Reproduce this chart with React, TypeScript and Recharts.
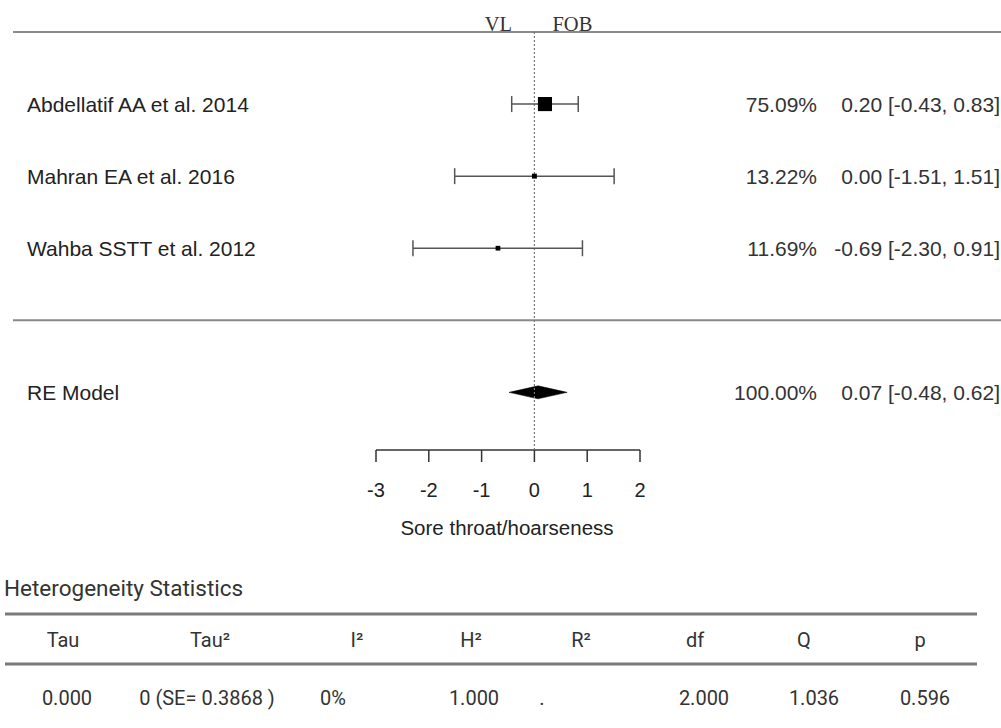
import React from 'react';
import {
  ComposedChart,
  Scatter,
  ErrorBar,
  XAxis,
  YAxis,
  ReferenceLine,
  ReferenceArea,
} from 'recharts';

// ---------- data ----------
const studies = ['Abdellatif AA et al. 2014', 'Mahran EA et al. 2016', 'Wahba SSTT et al. 2012'];
const estimates = [0.2, 0.0, -0.69];
const ciLower = [-0.43, -1.51, -2.3];
const ciUpper = [0.83, 1.51, 0.91];
const weights = [75.09, 13.22, 11.69];
const studyRows = [1, 2, 3];

const pooledLabel = 'RE Model';
const pooledEstimate = 0.07;
const pooledLower = -0.48;
const pooledUpper = 0.62;
const pooledWeight = 100.0;
const pooledRow = 5;

const xTicks = [-3, -2, -1, 0, 1, 2];
const axisTitle = 'Sore throat/hoarseness';
const groupLabels = ['VL', 'FOB'];

const hetTitle = 'Heterogeneity Statistics';
const hetHeaders = ['Tau', 'Tau²', 'I²', 'H²', 'R²', 'df', 'Q', 'p'];
const hetValues = ['0.000', '0 (SE= 0.3868 )', '0%', '1.000', '.', '2.000', '1.036', '0.596'];

// ---------- layout ----------
const W = 1001;
const CHART_H = 560;
const X_DOMAIN: [number, number] = [-9.875, 8.837];
const Y_DOMAIN: [number, number] = [0, 5.8];
const headerX = [63, 210, 357, 471, 581, 695, 804, 920];
const valueX = [67, 207, 333, 474, 542, 704, 814, 925];

const SANS = '"Liberation Sans", Arial, Helvetica, sans-serif';
const SERIF = '"Liberation Serif", "Times New Roman", serif';
const TABLE_FONT = 'Roboto, "Noto Sans", sans-serif';

const fmt = (v: number) => v.toFixed(2);

const studyData = studies.map((name, i) => ({
  name,
  x: estimates[i],
  y: studyRows[i],
  err: [estimates[i] - ciLower[i], ciUpper[i] - estimates[i]],
  weight: weights[i],
}));

const allRows = [...studyRows, pooledRow];
const allLabels = [...studies, pooledLabel];
const allWeights = [...weights, pooledWeight];
const allEst = [...estimates, pooledEstimate];
const allLo = [...ciLower, pooledLower];
const allHi = [...ciUpper, pooledUpper];

const labelData = allRows.map((r, i) => ({ x: allEst[i], y: r, idx: i }));

const wMin = Math.min(...weights);
const wMax = Math.max(...weights);

const StudySquare = (p: any) => {
  const { cx, cy, payload } = p;
  if (cx == null || cy == null) return null;
  const rel = (payload.weight - wMin) / (wMax - wMin);
  const s = 9.4 * (0.5 + rel);
  return <rect x={cx - s / 2} y={cy - s / 2} width={s} height={s} fill="#000" />;
};

const RowLabel = (p: any) => {
  const { cy, payload } = p;
  if (cy == null || !payload) return null;
  const idx = payload.idx;
  const ci = `${fmt(allEst[idx])} [${fmt(allLo[idx])}, ${fmt(allHi[idx])}]`;
  return (
    <g fontFamily={SANS} fontSize={21} fill="#222">
      <text x={27} y={cy} dominantBaseline="central" textAnchor="start">
        {allLabels[idx]}
      </text>
      <text x={817} y={cy} dominantBaseline="central" textAnchor="end" fill="#333">
        {`${allWeights[idx].toFixed(2)}%`}
      </text>
      <text x={1000} y={cy} dominantBaseline="central" textAnchor="end" fill="#333">
        {ci}
      </text>
    </g>
  );
};

const GroupLabels = (p: any) => {
  const vb = p.viewBox || {};
  const x = vb.x ?? 0;
  const y = vb.y ?? 0;
  return (
    <g fontFamily={SERIF} fontSize={20.5} fill="#333">
      <text x={x - 36} y={y - 1} textAnchor="middle">
        {groupLabels[0]}
      </text>
      <text x={x + 38} y={y - 1} textAnchor="middle">
        {groupLabels[1]}
      </text>
    </g>
  );
};

const AxisTitle = (p: any) => {
  const vb = p.viewBox || {};
  const cx = (vb.x ?? 0) + (vb.width ?? 0) / 2;
  const cy = (vb.y ?? 0) + 77;
  return (
    <text x={cx} y={cy} textAnchor="middle" dominantBaseline="central" fontFamily={SANS} fontSize={20.5} fill="#222">
      {axisTitle}
    </text>
  );
};

const Diamond = (p: any) => {
  const { x, y, width, height } = p;
  if (x == null) return null;
  const peak = x + (width * (pooledEstimate - pooledLower)) / (pooledUpper - pooledLower);
  const mid = y + height / 2;
  const pts = `${x},${mid} ${peak},${y} ${x + width},${mid} ${peak},${y + height}`;
  return <polygon points={pts} fill="#000" stroke="#000" strokeWidth={0.5} />;
};

export default function App() {
  return (
    <div style={{ position: 'absolute', left: 0, top: 0, width: W, height: 728, background: '#fff' }}>
      <ComposedChart
        width={W}
        height={CHART_H}
        margin={{ top: 32, right: 0, left: 13, bottom: 0 }}
      >
        <XAxis
          type="number"
          dataKey="x"
          domain={X_DOMAIN}
          allowDataOverflow
          ticks={xTicks}
          interval={0}
          axisLine={false}
          tickLine={{ stroke: '#333', strokeWidth: 1.5 }}
          tickSize={12}
          tickMargin={21}
          height={CHART_H - 450}
          tick={{ fill: '#222', fontSize: 20, fontFamily: SANS }}
          label={{ content: AxisTitle } as any}
        />
        <YAxis
          type="number"
          dataKey="y"
          domain={Y_DOMAIN}
          allowDataOverflow
          reversed
          hide
          width={0}
        />
        <ReferenceLine y={0} stroke="#8a8a8a" strokeWidth={2} ifOverflow="visible" />
        <ReferenceLine y={4} stroke="#8a8a8a" strokeWidth={2} ifOverflow="visible" />
        <ReferenceLine
          segment={[
            { x: xTicks[0], y: Y_DOMAIN[1] },
            { x: xTicks[xTicks.length - 1], y: Y_DOMAIN[1] },
          ]}
          stroke="#333"
          strokeWidth={1.5}
          ifOverflow="visible"
        />
        <ReferenceArea
          x1={pooledLower}
          x2={pooledUpper}
          y1={pooledRow - 0.09}
          y2={pooledRow + 0.09}
          shape={Diamond}
          ifOverflow="visible"
        />
        <ReferenceLine
          x={0}
          stroke="#777"
          strokeWidth={1.2}
          strokeDasharray="2 2"
          label={{ content: GroupLabels } as any}
        />
        <Scatter data={studyData} dataKey="y" shape={StudySquare} isAnimationActive={false}>
          <ErrorBar dataKey="err" direction="x" width={8} stroke="#555" strokeWidth={1.5} />
        </Scatter>
        <Scatter data={labelData} dataKey="y" shape={RowLabel} isAnimationActive={false} />
      </ComposedChart>

      <svg
        width={W}
        height={728 - CHART_H}
        style={{ position: 'absolute', left: 0, top: CHART_H }}
      >
        <text x={4} y={588 - CHART_H} dominantBaseline="central" fontFamily={TABLE_FONT} fontSize={22.5} fill="#333">
          {hetTitle}
        </text>
        <line x1={5} x2={977} y1={614 - CHART_H} y2={614 - CHART_H} stroke="#7a7a7a" strokeWidth={3} />
        <line x1={5} x2={977} y1={664 - CHART_H} y2={664 - CHART_H} stroke="#7a7a7a" strokeWidth={3} />
        {hetHeaders.map((h, i) => (
          <text
            key={'h' + i}
            x={headerX[i]}
            y={640 - CHART_H}
            textAnchor="middle"
            dominantBaseline="central"
            fontFamily={TABLE_FONT}
            fontSize={20}
            fill="#333"
          >
            {h}
          </text>
        ))}
        {hetValues.map((v, i) => (
          <text
            key={'v' + i}
            x={valueX[i]}
            y={698 - CHART_H}
            textAnchor="middle"
            dominantBaseline="central"
            fontFamily={TABLE_FONT}
            fontSize={20}
            fill="#333"
          >
            {v}
          </text>
        ))}
      </svg>
    </div>
  );
}
